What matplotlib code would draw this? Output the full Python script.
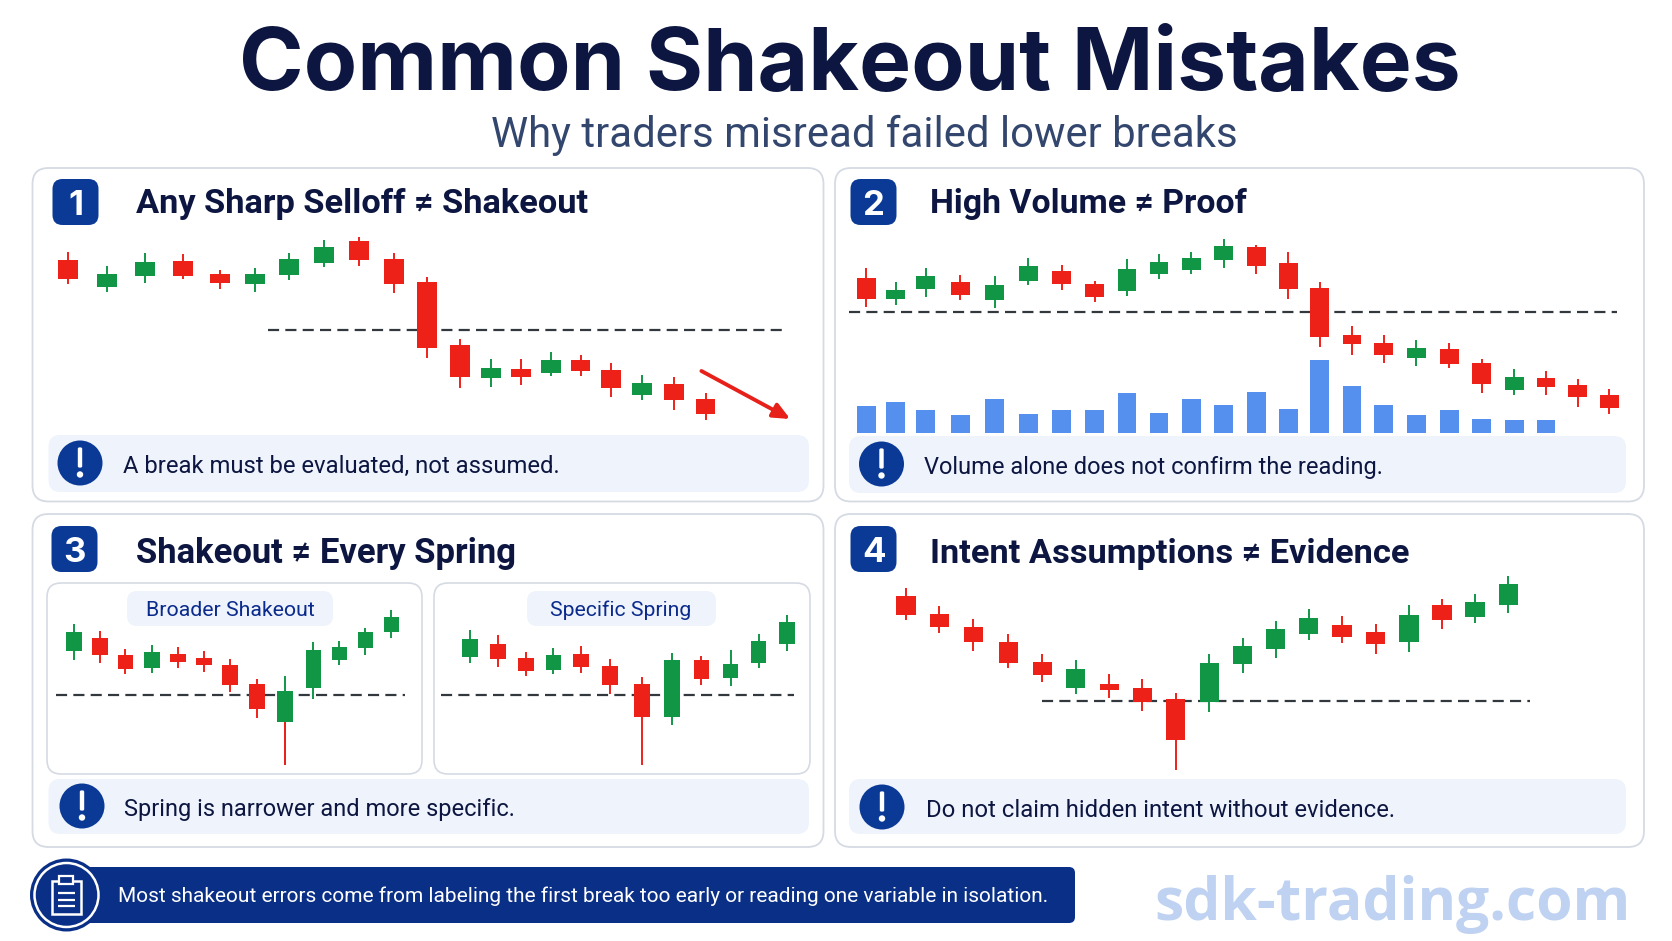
# Common shakeout mistakes - four candlestick panels with call-outs
import matplotlib
matplotlib.use('Agg')
import matplotlib.pyplot as plt
from matplotlib.patches import FancyBboxPatch, Circle, Rectangle

plt.rcParams['font.family'] = ['Roboto', 'DejaVu Sans']
HEAD_FONT = ['Inter', 'DejaVu Sans']

W, H = 1672, 941
RED = '#ee2119'
GREEN = '#119645'
BLUE = '#5690ee'
NAVY = '#0b3a96'
INK = '#0c1640'

# Panel 1: any sharp selloff
p1_time = [75, 151, 226, 300, 372, 441, 508, 577, 645, 713, 778, 842, 903, 962, 1021, 1079, 1138, 1200, 1262, 1324]
p1_open = [514, 433, 468, 512, 473, 444, 470, 507, 571, 517, 450, 261, 161, 188, 177, 216, 186, 111, 143, 97]
p1_high = [538, 498, 536, 532, 484, 490, 537, 574, 584, 535, 463, 277, 217, 217, 239, 229, 205, 171, 163, 116]
p1_low = [444, 418, 446, 459, 427, 420, 456, 495, 496, 415, 222, 131, 133, 140, 166, 168, 103, 94, 66, 36]
p1_close = [457, 474, 510, 468, 446, 473, 517, 554, 514, 442, 250, 163, 190, 164, 216, 182, 130, 147, 94, 54]
p1_level = 305

# Panel 2: high volume
p2_time = [69, 126, 183, 249, 315, 379, 443, 506, 568, 629, 691, 753, 815, 876, 936, 998, 1059, 1121, 1184, 1246, 1308, 1369, 1430, 1490]
p2_open = [460, 397, 428, 448, 395, 453, 482, 444, 423, 473, 485, 516, 553, 507, 431, 290, 266, 222, 247, 205, 125, 160, 140, 110]
p2_high = [490, 449, 491, 471, 466, 522, 501, 451, 517, 534, 538, 577, 560, 538, 448, 316, 289, 275, 267, 218, 189, 181, 157, 127]
p2_low = [373, 380, 403, 394, 371, 440, 425, 389, 406, 458, 472, 492, 473, 399, 254, 230, 207, 197, 192, 117, 111, 111, 74, 52]
p2_close = [397, 425, 466, 409, 441, 498, 442, 405, 489, 510, 522, 556, 498, 428, 284, 262, 231, 250, 203, 143, 164, 134, 104, 70]
p2_level = 360
p2_volume = [82, 93, 70, 53, 102, 56, 68, 68, 121, 61, 101, 83, 122, 71, 220, 141, 83, 53, 68, 41, 39, 40]

# Panel 3 left: broader shakeout
p3a_time = [86, 137, 187, 239, 290, 341, 392, 445, 500, 555, 606, 657, 708]
p3a_open = [378, 415, 366, 326, 369, 356, 335, 277, 164, 266, 351, 386, 433]
p3a_high = [459, 437, 384, 394, 390, 376, 352, 293, 303, 403, 407, 447, 499]
p3a_low = [350, 340, 307, 311, 325, 315, 255, 175, 35, 234, 335, 366, 417]
p3a_close = [434, 365, 324, 374, 345, 334, 276, 204, 257, 380, 388, 434, 479]
p3a_level = 246

# Panel 3 right: specific spring
p3b_time = [862, 917, 972, 1026, 1080, 1136, 1199, 1259, 1316, 1373, 1428, 1483]
p3b_open = [358, 399, 355, 321, 369, 331, 277, 179, 349, 295, 341, 399]
p3b_high = [440, 424, 375, 386, 391, 352, 298, 370, 362, 380, 427, 486]
p3b_low = [341, 329, 303, 308, 311, 249, 35, 156, 274, 273, 326, 377]
p3b_close = [414, 353, 317, 366, 329, 275, 179, 350, 292, 337, 407, 464]
p3b_level = 246

# Panel 4: intent assumptions
p4_time = [145, 209, 274, 341, 406, 470, 534, 597, 661, 725, 789, 852, 915, 979, 1043, 1107, 1170, 1233, 1297]
p4_open = [542, 488, 449, 404, 343, 265, 279, 265, 232, 223, 337, 382, 429, 456, 433, 403, 515, 479, 514]
p4_high = [565, 511, 473, 427, 367, 350, 308, 293, 252, 369, 415, 468, 502, 481, 457, 514, 532, 547, 602]
p4_low = [469, 431, 378, 325, 284, 249, 235, 197, 21, 195, 311, 355, 411, 401, 368, 375, 443, 462, 492]
p4_close = [485, 448, 403, 342, 306, 322, 261, 223, 111, 342, 392, 443, 477, 420, 397, 485, 471, 523, 577]
p4_level = 226

fig = plt.figure(figsize=(W / 100, H / 100), dpi=100, facecolor='white')

# page layer in pixel units for cards, badges and text
page = fig.add_axes([0, 0, 1, 1])
page.set_xlim(0, W)
page.set_ylim(H, 0)
page.axis('off')
renderer = fig.canvas.get_renderer()


def box(x0, y0, x1, y1, radius, face, edge='none', lw=0):
    page.add_patch(FancyBboxPatch((x0, y0), x1 - x0, y1 - y0,
                                  boxstyle='round,pad=0,rounding_size=%g' % radius,
                                  facecolor=face, edgecolor=edge, linewidth=lw))


def label(x, y, s, width, size=20, ha='left', **kw):
    # scale the font so the string spans the wanted pixel width
    t = page.text(x, y, s, fontsize=size, ha=ha, va='center_baseline', **kw)
    t.set_fontsize(size * width / t.get_window_extent(renderer).width)
    return t


def card(x0, y0, x1, y1):
    box(x0, y0, x1, y1, 16, 'white', '#d5dae3', 1.3)


def badge(x0, y0, digit):
    box(x0, y0, x0 + 46, y0 + 46, 10, NAVY)
    page.text(x0 + 23, y0 + 23, digit, color='white', fontsize=25, fontweight='bold',
              ha='center', va='center_baseline', family=HEAD_FONT)


def callout(x0, y0, x1, y1, cx, cy, s, tx, width):
    box(x0, y0, x1, y1, 12, '#eef3fc')
    page.add_patch(Circle((cx, cy), 22.5, facecolor=NAVY, edgecolor='none'))
    page.add_patch(FancyBboxPatch((cx - 1.6, cy - 15), 3.2, 19, boxstyle='round,pad=0.6,rounding_size=1.5',
                                  facecolor='white', edgecolor='none'))
    page.add_patch(Circle((cx, cy + 11.5), 3.2, facecolor='white', edgecolor='none'))
    label(tx, cy + 1, s, width, color=INK)


def chart_axes(x0, y0, w, h, sx, top):
    # transparent axes over a page region; one x unit is 1/sx px, one y unit is 1/3 px
    ax = fig.add_axes([x0 / W, 1 - (y0 + h) / H, w / W, h / H])
    ax.set_xlim(0, w * sx)
    ax.set_ylim(top - h * 3, top)
    ax.axis('off')
    ax.patch.set_alpha(0)
    return ax


def candles(ax, t, o, hi, lo, c, width, red_tail=()):
    colors = [GREEN if c[i] >= o[i] else RED for i in range(len(t))]
    ax.vlines(t, lo, hi, colors=colors, linewidth=1.4, zorder=3)
    # a long lower tail can be printed red under a green body
    for i in red_tail:
        ax.vlines(t[i], lo[i], min(o[i], c[i]), colors=RED, linewidth=1.4, zorder=3)
    bottoms = [min(o[i], c[i]) for i in range(len(t))]
    heights = [abs(c[i] - o[i]) for i in range(len(t))]
    ax.bar(t, heights, bottom=bottoms, width=width, color=colors, zorder=4)


def level_line(ax, y, x0, x1):
    ax.hlines(y, x0, x1, colors='#33383f', linewidth=1.6, linestyles=[(0, (5, 2.8))], zorder=2)


# header
label(850, 58, 'Common Shakeout Mistakes', 1222, size=70, ha='center', color=INK, fontweight='bold',
      family=HEAD_FONT)
label(864, 131, 'Why traders misread failed lower breaks', 745, size=30, ha='center', color='#33466e')

# cards
card(32.5, 168, 823.5, 501.5)
card(835, 168, 1644, 501.5)
card(32.5, 514, 823.5, 847)
card(835, 514, 1644, 847)

badge(52.5, 179, '1')
badge(850.5, 179, '2')
badge(51.5, 526, '3')
badge(850.5, 526, '4')

label(136, 200, 'Any Sharp Selloff ≠ Shakeout', 451, color=INK, fontweight='bold')
label(929.5, 200, 'High Volume ≠ Proof', 316, color=INK, fontweight='bold')
label(136, 550, 'Shakeout ≠ Every Spring', 380, color=INK, fontweight='bold')
label(930.5, 550, 'Intent Assumptions ≠ Evidence', 479, color=INK, fontweight='bold')

callout(48.5, 435, 809, 492, 80, 463, 'A break must be evaluated, not assumed.', 123, 436)
callout(849, 436, 1626, 493, 881.5, 464, 'Volume alone does not confirm the reading.', 924, 457)
callout(48.5, 779, 809, 834, 82, 806, 'Spring is narrower and more specific.', 124, 391)
callout(849, 779, 1626, 834, 882, 807, 'Do not claim hidden intent without evidence.', 926, 468)

# inner cards of panel 3 and their captions
box(47, 583, 422, 774, 14, 'white', '#d5dae3', 1.2)
box(434, 583, 810, 774, 14, 'white', '#d5dae3', 1.2)
box(127, 591, 333, 626, 10, '#eef3fc')
box(527, 591, 716, 626, 10, '#eef3fc')
label(230, 608, 'Broader Shakeout', 168, ha='center', color='#0a2a8c')
label(621, 608, 'Specific Spring', 141, ha='center', color='#0a2a8c')

# footer banner with clipboard icon
box(66, 867, 1075, 923, 6, '#0a2f86')
page.add_patch(Circle((66.5, 895), 36.5, facecolor='#0a2f86', edgecolor='none'))
page.add_patch(Circle((66.5, 895), 32, facecolor='#0a2f86', edgecolor='white', linewidth=1.8))
page.add_patch(Rectangle((51.5, 880.5), 29, 33, facecolor='none', edgecolor='white', linewidth=1.8))
page.add_patch(Rectangle((59, 876), 14, 8, facecolor='#0a2f86', edgecolor='white', linewidth=1.6))
for ly in (893, 899.5, 906):
    page.plot([58, 75], [ly, ly], color='white', linewidth=1.6, solid_capstyle='butt')
label(118, 894, 'Most shakeout errors come from labeling the first break too early or reading one variable in isolation.',
      927, color='white')

# watermark
label(1154, 898, 'sdk-trading.com', 476, size=44, color='#bfd2f1', fontweight='bold', family='Open Sans')

# panel 1
ax1 = chart_axes(30, 165, 800, 340, 1.96, 800)
level_line(ax1, p1_level, 466, 1475)
candles(ax1, p1_time, p1_open, p1_high, p1_low, p1_close, 39)
ax1.annotate('', xy=(1490, 38), xytext=(1316, 182),
             arrowprops=dict(arrowstyle='-|>,head_length=1.0,head_width=0.45', color='#e8201a', lw=2.8,
                             shrinkA=0, shrinkB=0))

# panel 2 with volume underneath
ax2v = chart_axes(830, 165, 820, 340, 1.912, 804)
ax2v.bar(p2_time[:len(p2_volume)], p2_volume, width=36, color=BLUE, zorder=1)
ax2 = chart_axes(830, 165, 820, 340, 1.912, 800)
level_line(ax2, p2_level, 36, 1504)
candles(ax2, p2_time, p2_open, p2_high, p2_low, p2_close, 36)

# panel 3
ax3 = chart_axes(30, 510, 800, 340, 1.96, 800)
level_line(ax3, p3a_level, 50, 735)
level_line(ax3, p3b_level, 805, 1498)
candles(ax3, p3a_time, p3a_open, p3a_high, p3a_low, p3a_close, 30, red_tail=[8])
candles(ax3, p3b_time, p3b_open, p3b_high, p3b_low, p3b_close, 31)

# panel 4
ax4 = chart_axes(830, 510, 820, 340, 1.912, 800)
level_line(ax4, p4_level, 405, 1338)
candles(ax4, p4_time, p4_open, p4_high, p4_low, p4_close, 37)

fig.savefig('out.png', dpi=100, facecolor='white')
